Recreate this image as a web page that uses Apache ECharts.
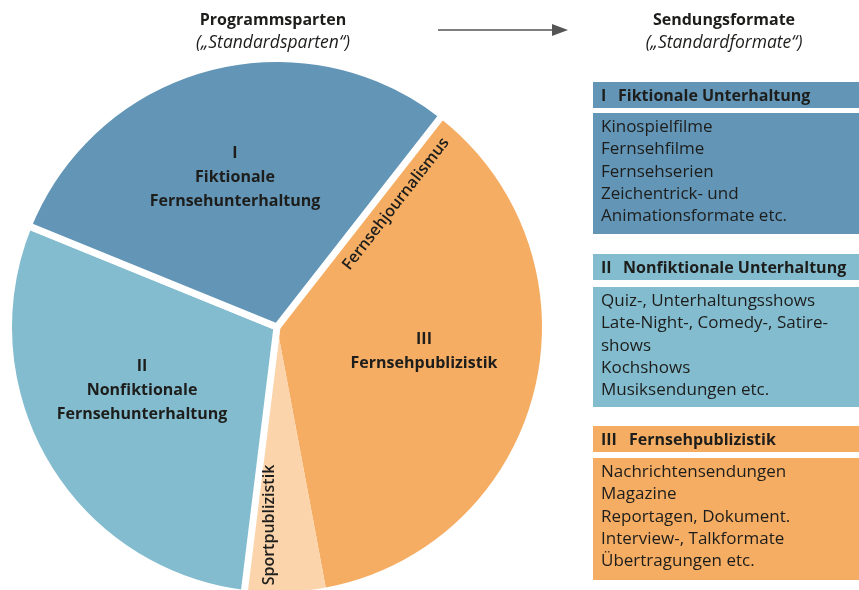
<!DOCTYPE html>
<html>
<head>
<meta charset="utf-8">
<script src="https://cdn.jsdelivr.net/npm/echarts@6/dist/echarts.min.js"></script>
<style>
html, body { margin: 0; padding: 0; background: #fff; }
#chart { width: 859px; height: 590px; }
</style>
</head>
<body>
<div id="chart"></div>
<script>
// Programmsparten, share of the circle in percent (clockwise, starting at the gap top right)
var sliceNames = ['Fernsehjournalismus', 'Sportpublizistik', 'II Nonfiktionale Fernsehunterhaltung', 'I Fiktionale Fernsehunterhaltung'];
var sliceValues = [36.5, 4.9, 29.2, 29.4];
var sliceLabels = ['Fernsehjournalismus', 'Sportpublizistik', 'II\nNonfiktionale\nFernsehunterhaltung', 'I\nFiktionale\nFernsehunterhaltung'];
var sliceColors = ['#f5ad63', '#fbd4ab', '#83bccf', '#6295b6'];
var blueSlices = [false, false, true, true];
var groupLabel = 'III\nFernsehpublizistik';

// Sendungsformate
var boxNumerals = ['I', 'II', 'III'];
var boxTitles = ['Fiktionale Unterhaltung', 'Nonfiktionale Unterhaltung', 'Fernsehpublizistik'];
var boxItems = [
    ['Kinospielfilme', 'Fernsehfilme', 'Fernsehserien', 'Zeichentrick- und', 'Animationsformate etc.'],
    ['Quiz-, Unterhaltungsshows', 'Late-Night-, Comedy-, Satire-', 'shows', 'Kochshows', 'Musiksendungen etc.'],
    ['Nachrichtensendungen', 'Magazine', 'Reportagen, Dokument.', 'Interview-, Talkformate', 'Übertragungen etc.']
];
var boxColors = ['#6295b6', '#83bccf', '#f5ad63'];

var FONT = '"Open Sans", "Noto Sans", sans-serif';
var TEXT = '#1d1d1b';

/* label spots: x, y, rotation */
var labelSpots = [[396, 204, 52], [269, 525, 90], [142, 390, 0], [235, 177, 0]];
var boxLayout = [
    {head: 82, body: 113, bottom: 234, titleX: 618},
    {head: 254, body: 287, bottom: 407, titleX: 623},
    {head: 426, body: 458, bottom: 580, titleX: 629}
];

var center = [277, 327];

// lower layer: orange slices (blue ones transparent)
var orangeData = sliceNames.map(function (n, i) {
    return {
        name: n,
        value: sliceValues[i],
        itemStyle: {color: blueSlices[i] ? 'rgba(0,0,0,0)' : sliceColors[i]},
        label: {
            show: true,
            formatter: sliceLabels[i],
            rotate: labelSpots[i][2],
            fontWeight: blueSlices[i] ? 'bold' : 600
        }
    };
});
// upper layer: blue slices with white edges (gives the gaps)
var blueData = sliceNames.map(function (n, i) {
    return {
        name: n,
        value: sliceValues[i],
        itemStyle: blueSlices[i]
            ? {color: sliceColors[i], borderColor: '#fff', borderWidth: 7}
            : {color: 'rgba(0,0,0,0)', borderWidth: 0}
    };
});

var graphics = [];
function txt(x, y, s, font, align, lh) {
    graphics.push({
        type: 'text', x: x, y: y, silent: true, z: 10,
        style: {text: s, font: font, fill: TEXT, textAlign: align || 'left', align: align || 'left',
            textVerticalAlign: 'middle', verticalAlign: 'middle', lineHeight: lh || 20}
    });
}
// titles
txt(273, 20, 'Programmsparten', 'bold 16px ' + FONT, 'center');
txt(273, 43, '(\u201EStandardsparten\u201C)', 'italic 17.5px ' + FONT, 'center');
txt(724, 20, 'Sendungsformate', 'bold 16px ' + FONT, 'center');
txt(724, 43, '(\u201EStandardformate\u201C)', 'italic 17.5px ' + FONT, 'center');
// arrow
graphics.push({type: 'line', silent: true, shape: {x1: 438, y1: 30, x2: 554, y2: 30}, style: {stroke: '#555', lineWidth: 1.5}});
graphics.push({type: 'polygon', silent: true, shape: {points: [[552, 24], [568, 30], [552, 36]]}, style: {fill: '#555'}});
// group label of III
txt(424, 351, groupLabel, 'bold 16px ' + FONT, 'center', 24);

// boxes
boxTitles.forEach(function (t, i) {
    var b = boxLayout[i];
    graphics.push({type: 'rect', silent: true, shape: {x: 593, y: b.head, width: 266, height: 26}, style: {fill: boxColors[i]}});
    graphics.push({type: 'rect', silent: true, shape: {x: 593, y: b.body, width: 266, height: b.bottom - b.body}, style: {fill: boxColors[i]}});
    txt(601, b.head + 14, boxNumerals[i], 'bold 16px ' + FONT);
    txt(b.titleX, b.head + 14, t, 'bold 16px ' + FONT);
    boxItems[i].forEach(function (line, k) {
        txt(601, b.body + 14 + k * 22.4, line, '17px ' + FONT);
    });
});

var chart = echarts.init(document.getElementById('chart'));
chart.setOption({
    animation: false,
    graphic: graphics,
    series: [
        {
            type: 'pie',
            silent: true,
            center: center,
            radius: [0, 265],
            startAngle: 52,
            clockwise: true,
            labelLine: {show: false},
            label: {
                position: 'inside',
                color: TEXT,
                fontFamily: FONT,
                fontSize: 16,
                lineHeight: 24,
                align: 'center'
            },
            labelLayout: function (p) {
                var s = labelSpots[p.dataIndex];
                return {x: s[0], y: s[1], align: 'center', verticalAlign: 'middle'};
            },
            data: orangeData
        },
        {
            type: 'pie',
            silent: true,
            center: center,
            radius: [0, 268.5],
            startAngle: 52,
            clockwise: true,
            label: {show: false},
            labelLine: {show: false},
            data: blueData
        }
    ]
});
</script>
</body>
</html>
